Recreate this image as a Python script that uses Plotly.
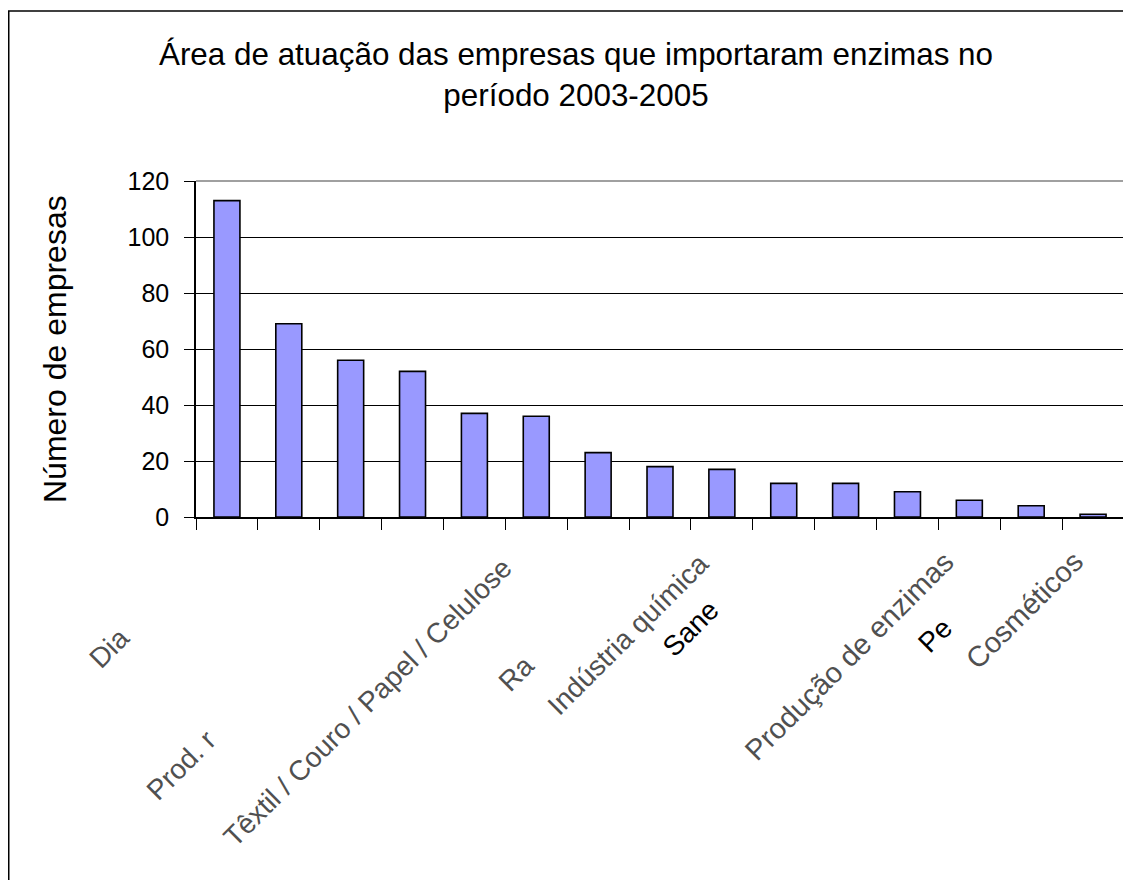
import plotly.graph_objects as go

# ---- data ----
VALUES = [113, 69, 56, 52, 37, 36, 23, 18, 17, 12, 12, 9, 6, 4, 1]
Y_TICKS = [0, 20, 40, 60, 80, 100, 120]
TITLE = "Área de atuação das empresas que importaram enzimas no<br>período 2003-2005"
Y_TITLE = "Número de empresas"
# category labels as they are legible in the reference (several are cut off there)
LABEL_TEXT = ["Dia", "Prod. r", "Têxtil / Couro / Papel / Celulose", "Ra",
              "Indústria química", "Sane", "Produção de enzimas", "Pe", "Cosméticos"]
LABEL_CAT = [0, 0, 5, 5, 8, 8, 12, 12, 14]

# ---- style ----
FONT = "Arial, Liberation Sans, sans-serif"
W, H = 1131, 880
OFF = 8  # the page body adds an 8px margin around the figure
L, T = 196 - OFF, 181 - OFF
R = W - (1124 - OFF)
B = H - (517 - OFF)
# label placement offsets in px (x from category centre, y below axis), sizes and colours
LABEL_DX = [-91, -4, -17, 5, -6, 4, -8, -10, -2]
LABEL_DY = [104, 206, 34, 131, 29, 76, 27, 94, 27]
LABEL_SIZE = [28, 28, 28, 28, 28, 28, 29, 28, 29]
LABEL_COLOR = ["#505050", "#505050", "#505050", "#505050", "#505050", "#000000",
               "#505050", "#000000", "#505050"]

n = len(VALUES)
xs = list(range(n))
pw, ph = W - L - R, H - T - B

fig = go.Figure(go.Bar(
    x=xs, y=VALUES,
    marker=dict(color="#9999FF", line=dict(color="black", width=1.6)),
    width=0.42,
))

annotations = []
for txt, cat, dx, dy, sz, col in zip(LABEL_TEXT, LABEL_CAT, LABEL_DX, LABEL_DY,
                                     LABEL_SIZE, LABEL_COLOR):
    annotations.append(dict(
        x=cat, xref="x", y=0, yref="paper", text=txt, showarrow=False,
        textangle=-45, xanchor="right", yanchor="top", xshift=dx, yshift=-dy,
        borderpad=0, font=dict(family=FONT, size=sz, color=col),
    ))

# y-axis title
annotations.append(dict(
    x=(55 - OFF - L) / pw, xref="paper", y=0.5, yref="paper", text=Y_TITLE,
    showarrow=False, textangle=-90, xanchor="center", yanchor="middle",
    font=dict(family=FONT, size=32, color="black"),
))

shapes = [
    # plot-area frame: top and right edges in gray
    dict(type="line", xref="x domain", yref="y domain", x0=0, x1=1, y0=1, y1=1,
         line=dict(color="#808080", width=1.5), layer="above"),
    dict(type="line", xref="x domain", yref="y domain", x0=1, x1=1, y0=0, y1=1,
         line=dict(color="#808080", width=1.5), layer="above"),
    # chart-area border (only its top and left edges fall inside the picture)
    dict(type="line", xref="paper", yref="paper",
         x0=(8 - OFF - L) / pw, x1=(W + 20 - L) / pw,
         y0=(T + ph - (11 - OFF)) / ph, y1=(T + ph - (11 - OFF)) / ph,
         line=dict(color="black", width=1.5), layer="above"),
    dict(type="line", xref="paper", yref="paper",
         x0=(8 - OFF + 0.75 - L) / pw, x1=(8 - OFF + 0.75 - L) / pw,
         y0=-(H + 20 - (T + ph)) / ph, y1=(T + ph - (11 - OFF)) / ph,
         line=dict(color="black", width=1.5), layer="above"),
]

fig.update_layout(
    width=W, height=H, autosize=False,
    margin=dict(l=L, r=R, t=T, b=B),
    paper_bgcolor="white", plot_bgcolor="white",
    font=dict(family=FONT, color="black"),
    title=dict(text=TITLE, xref="container", yref="container",
               x=(576 - OFF) / W, xanchor="center", y=1 - (65 - OFF) / H, yanchor="top",
               font=dict(family=FONT, size=31.4, color="black")),
    xaxis=dict(range=[-0.5, n - 0.5], showgrid=False, zeroline=False,
               showline=True, linecolor="black", linewidth=1.5,
               tickmode="array", tickvals=[i - 0.5 for i in range(n + 1)],
               ticks="outside", ticklen=11, tickcolor="black", tickwidth=1.2,
               showticklabels=False),
    yaxis=dict(range=[0, 120], tickmode="array", tickvals=Y_TICKS,
               showgrid=True, gridcolor="black", gridwidth=1, zeroline=False,
               showline=True, linecolor="black", linewidth=1.5,
               ticks="outside", ticklen=10, tickcolor="black", tickwidth=1.2,
               ticklabelstandoff=10,
               tickfont=dict(family=FONT, size=25, color="black")),
    showlegend=False,
    annotations=annotations,
    shapes=shapes,
)

fig.write_html("out.html")
